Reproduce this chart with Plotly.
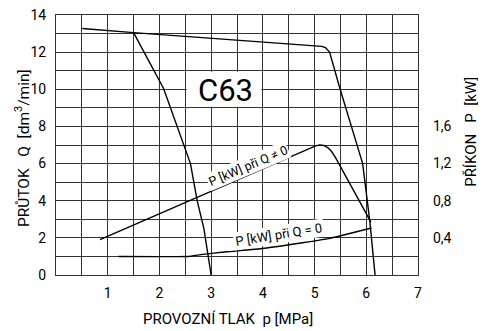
import plotly.graph_objects as go

# ---- data ----
# maximum flow curve (two-stage pump envelope), p [MPa] vs Q [dm3/min]
flow_max_p = [0.51, 1.50, 5.14, 5.21, 5.29, 5.49, 5.93, 6.07, 6.17]
flow_max_q = [13.27, 13.05, 12.31, 12.25, 12.00, 10.04, 6.00, 2.85, 0.00]

# first-stage flow curve
flow_1_p = [1.50, 2.08, 2.60, 2.73, 2.86, 3.00]
flow_1_q = [13.05, 10.04, 6.00, 4.00, 2.50, 0.00]

# power input at Q != 0, p [MPa] vs P [kW]
pow_q_p = [0.85, 5.02, 5.10, 5.18, 5.26, 5.33, 5.40, 6.09]
pow_q_kw = [0.38, 1.39, 1.40, 1.395, 1.37, 1.33, 1.27, 0.57]

# power input at Q = 0
pow_0_p = [1.21, 2.56, 2.80, 3.30, 4.00, 5.27, 6.10]
pow_0_kw = [0.20, 0.20, 0.22, 0.25, 0.285, 0.392, 0.506]

x_ticks = [1, 2, 3, 4, 5, 6, 7]
y_ticks = [0, 2, 4, 6, 8, 10, 12, 14]
p_ticks = [0.4, 0.8, 1.2, 1.6]
p_tick_text = ["0,4", "0,8", "1,2", "1,6"]

FONT = "Roboto, Liberation Sans, sans-serif"
GRID = "#333333"
LINE = dict(color="black", width=1.4)
NB = "\u00a0"

fig = go.Figure()
fig.add_trace(go.Scatter(x=flow_max_p, y=flow_max_q, mode="lines", line=LINE, yaxis="y"))
fig.add_trace(go.Scatter(x=flow_1_p, y=flow_1_q, mode="lines", line=LINE, yaxis="y"))
fig.add_trace(go.Scatter(x=pow_q_p, y=pow_q_kw, mode="lines", line=LINE, yaxis="y2"))
fig.add_trace(go.Scatter(x=pow_0_p, y=pow_0_kw, mode="lines",
                         line=dict(color="black", width=1.4, shape="spline", smoothing=0.3), yaxis="y2"))

# white box behind the "C63" title (hides the grid)
fig.add_shape(type="rect", xref="x", yref="y", x0=2.53, x1=3.97, y0=9.06, y1=10.94,
              fillcolor="white", line=dict(width=0), layer="between")

fig.add_annotation(x=3.27, y=9.95, xref="x", yref="y", text="C63", showarrow=False,
                   xanchor="center", yanchor="middle",
                   font=dict(family=FONT, size=31, color="black"))
fig.add_annotation(x=3.72, y=5.88, xref="x", yref="y", text="P [kW] při Q ≠ 0", showarrow=False,
                   xanchor="center", yanchor="middle",
                   textangle=-23, bgcolor="white", borderpad=1,
                   font=dict(family=FONT, size=12.5, color="black"))
fig.add_annotation(x=4.32, y=2.16, xref="x", yref="y", text="P [kW] při Q = 0", showarrow=False,
                   xanchor="center", yanchor="middle",
                   textangle=-9, bgcolor="white", borderpad=1,
                   font=dict(family=FONT, size=13, color="black"))

# axis titles
fig.add_annotation(x=0.475, y=-0.17, xref="paper", yref="paper",
                   xanchor="center", yanchor="middle",
                   text="PROVOZNÍ TLAK" + NB * 2 + "p [MPa]",
                   showarrow=False, font=dict(family=FONT, size=15, color="black"))
fig.add_annotation(x=-0.092, y=0.487, xref="paper", yref="paper",
                   xanchor="center", yanchor="middle",
                   text="PRŮTOK" + NB * 3 + "Q" + NB * 2 + "[dm<sup>3</sup>/min]",
                   showarrow=False, textangle=-90, font=dict(family=FONT, size=15.5, color="black"))
fig.add_annotation(x=1.148, y=0.549, xref="paper", yref="paper",
                   xanchor="center", yanchor="middle",
                   text="PŘÍKON" + NB * 3 + "P" + NB * 2 + "[kW]",
                   showarrow=False, textangle=-90, font=dict(family=FONT, size=15, color="black"))

# page body keeps an 8 px margin, so the figure is 8 px smaller and offset
fig.update_layout(
    width=478, height=323,
    margin=dict(l=47.5, r=67.7, t=6.7, b=56.3, autoexpand=False),
    paper_bgcolor="white", plot_bgcolor="white",
    showlegend=False,
    font=dict(family=FONT, size=14, color="black"),
    xaxis=dict(range=[0, 7], tickmode="array", tickvals=x_ticks, showgrid=True, gridcolor=GRID,
               gridwidth=1, zeroline=False, showline=True, mirror=True, linecolor=GRID, linewidth=1,
               ticks="", ticklabelstandoff=5, automargin=False, ticklabeloverflow="allow",
               minor=dict(tick0=0, dtick=0.5, showgrid=True, gridcolor=GRID, gridwidth=1)),
    yaxis=dict(range=[0, 14], tickmode="array", tickvals=y_ticks, showgrid=True, gridcolor=GRID,
               gridwidth=1, zeroline=False, showline=True, mirror=True, linecolor=GRID, linewidth=1,
               ticks="", ticklabelstandoff=6, automargin=False, ticklabeloverflow="allow",
               minor=dict(tick0=0, dtick=1, showgrid=True, gridcolor=GRID, gridwidth=1)),
    yaxis2=dict(range=[0, 2.8], overlaying="y", side="right", tickmode="array", tickvals=p_ticks,
                ticktext=p_tick_text, showgrid=False, zeroline=False, showline=False, ticks="",
                ticklabelstandoff=14, automargin=False),
)

fig.write_html("out.html")
